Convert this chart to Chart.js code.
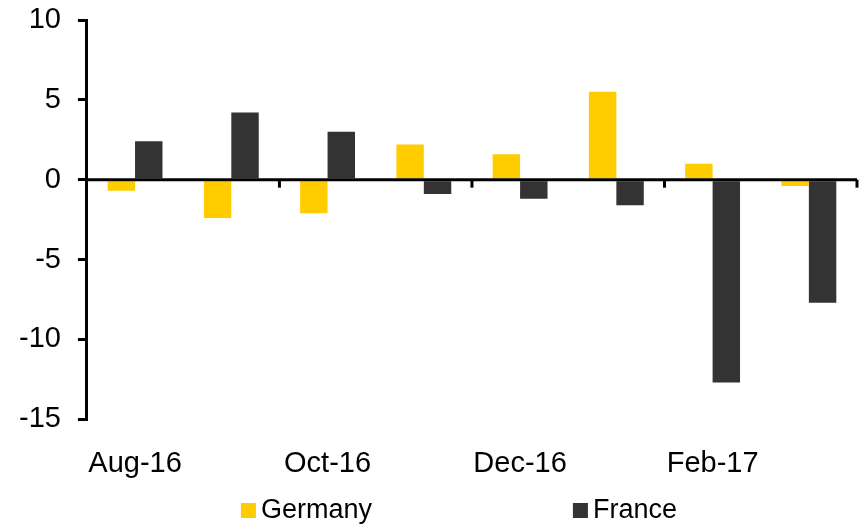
<!DOCTYPE html>
<html>
<head>
<meta charset="utf-8">
<script src="https://cdn.jsdelivr.net/npm/chart.js@4/dist/chart.umd.min.js"></script>
<style>
  html, body { margin: 0; padding: 0; background: #fff; }
  #wrap { width: 865px; height: 525px; }
</style>
</head>
<body>
<div id="wrap"><canvas id="chart" width="865" height="525"></canvas></div>
<script>
const months = ["Aug-16", "Sep-16", "Oct-16", "Nov-16", "Dec-16", "Jan-17", "Feb-17", "Mar-17"];
const germany = [-0.7, -2.4, -2.1, 2.2, 1.6, 5.5, 1.0, -0.4];
const france = [2.4, 4.2, 3.0, -0.9, -1.2, -1.6, -12.7, -7.7];
const yTicks = [-15, -10, -5, 0, 5, 10];

const FONT = "'Liberation Sans', Arial, sans-serif";

// zero line and the x tick marks hanging off it
const zeroAxis = {
  id: "zeroAxis",
  afterDatasetsDraw(chart) {
    const { ctx, chartArea, scales } = chart;
    const y0 = scales.y.getPixelForValue(0);
    const half = (scales.x.getPixelForValue(1) - scales.x.getPixelForValue(0)) / 2;
    ctx.save();
    ctx.strokeStyle = "#000";
    ctx.lineWidth = 3;
    ctx.beginPath();
    ctx.moveTo(chartArea.left, y0);
    ctx.lineTo(chartArea.right, y0);
    ctx.stroke();
    for (let i = 2; i <= months.length; i += 2) {
      const xb = scales.x.getPixelForValue(i) - half;
      ctx.beginPath();
      ctx.moveTo(xb, y0);
      ctx.lineTo(xb, y0 + 8);
      ctx.stroke();
    }
    ctx.restore();
  }
};

// legend spread out under the chart
const wideLegend = {
  id: "wideLegend",
  afterDraw(chart) {
    const { ctx, chartArea } = chart;
    const starts = [154, 486];
    const base = chart.height - 7;
    ctx.save();
    ctx.font = "27px " + FONT;
    ctx.textBaseline = "alphabetic";
    chart.data.datasets.forEach((ds, i) => {
      const x = chartArea.left + starts[i];
      ctx.fillStyle = ds.backgroundColor;
      ctx.fillRect(x, base - 15, 15, 15);
      ctx.fillStyle = "#000";
      ctx.fillText(ds.label, x + 20, base);
    });
    ctx.restore();
  }
};

new Chart(document.getElementById("chart"), {
  type: "bar",
  data: {
    labels: months,
    datasets: [
      { label: "Germany", data: germany, backgroundColor: "#FFCC00" },
      { label: "France", data: france, backgroundColor: "#333333" }
    ]
  },
  options: {
    responsive: false,
    animation: false,
    categoryPercentage: 0.57,
    barPercentage: 1,
    layout: { padding: { left: 2, right: 8, top: 0, bottom: 17 } },
    plugins: { legend: { display: false }, tooltip: { enabled: false } },
    scales: {
      x: {
        grid: { display: false, drawTicks: false },
        border: { display: false },
        ticks: {
          autoSkip: false,
          maxRotation: 0,
          padding: 27,
          color: "#000",
          font: { family: FONT, size: 29 },
          callback: (v, i) => (i % 2 === 0 ? months[i] : "")
        }
      },
      y: {
        min: -15,
        max: 10,
        afterBuildTicks: (axis) => { axis.ticks = yTicks.map(v => ({ value: v })); },
        // the label padding is horizontal only here, don't let it push the top down
        afterFit: (axis) => { axis.paddingTop = 20; axis.paddingBottom = 17; },
        grid: { drawOnChartArea: false, tickLength: 9, color: "#000", lineWidth: 3 },
        border: { display: true, color: "#000", width: 3 },
        ticks: {
          padding: 17,
          color: "#000",
          font: { family: FONT, size: 29 }
        }
      }
    }
  },
  plugins: [zeroAxis, wideLegend]
});
</script>
</body>
</html>
